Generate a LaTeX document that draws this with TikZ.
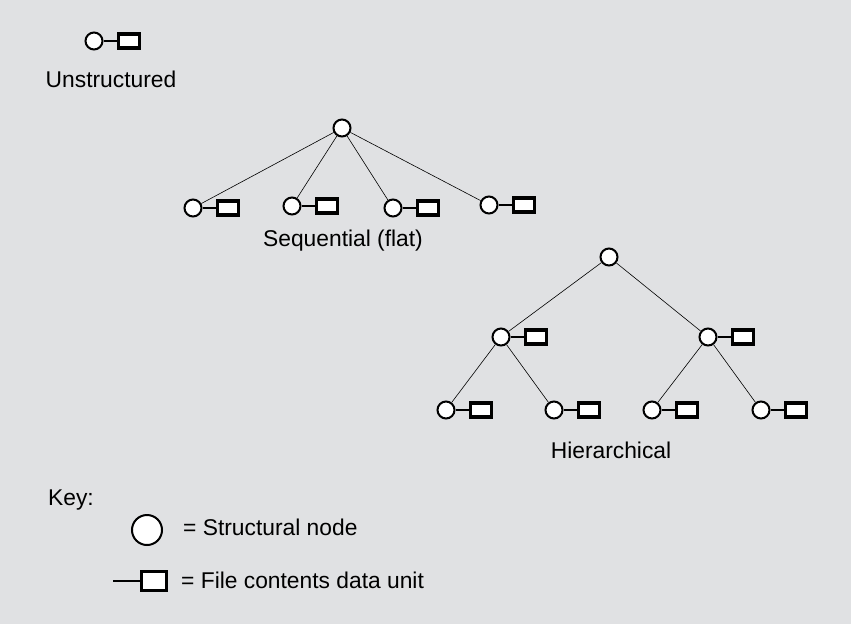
\documentclass[tikz,border=0pt]{standalone}
\usepackage{fontspec}
\setmainfont{Liberation Sans}
\usepackage{tikz}
\usetikzlibrary{positioning}
\definecolor{bggray}{RGB}{224,225,227}

\begin{document}
\begin{tikzpicture}
[x=1pt, y=-1pt, font=\fontsize{22.8}{27}\selectfont,
% STYLES
% The snode style is used to draw the structural nodes
snode/.style={circle, draw, fill=white, line width=2pt, inner sep=0pt, minimum size=17pt},
% The dunit style is used to draw the data units
dunit/.style={rectangle, draw, fill=white, line width=3.2pt, inner sep=0pt, minimum width=21pt, minimum height=14pt},
% The treename style is used for the captions
treename/.style={inner sep=0pt},
link/.style={line width=0.6pt},
stub/.style={line width=1.2pt}]

\fill[bggray] (0,0) rectangle (851,624);

% Unstructured
\node [snode] (u) at (94,41) {};
\node [dunit, right=13pt of u] (u-d) {};
\node [treename] at (111,79) {Unstructured};

% Sequential (flat)
\node [snode] (sroot) at (342,128) {};
\node [snode] (s1) at (193,208) {};
\node [snode] (s2) at (292,206) {};
\node [snode] (s3) at (393,208) {};
\node [snode] (s4) at (489,205) {};
\node [dunit, right=13pt of s1] (s1-d) {};
\node [dunit, right=13pt of s2] (s2-d) {};
\node [dunit, right=13pt of s3] (s3-d) {};
\node [dunit, right=13pt of s4] (s4-d) {};
\node [treename] at (343,241) {Sequential (flat)};

% Hierarchical
\node [snode] (hroot) at (609,257) {};
\node [snode] (h1) at (501,337) {};
\node [snode] (h2) at (708,337) {};
\node [snode] (h11) at (446,410) {};
\node [snode] (h12) at (554,410) {};
\node [snode] (h21) at (652,410) {};
\node [snode] (h22) at (761,410) {};
\node [dunit, right=13pt of h1] (h1-d) {};
\node [dunit, right=13pt of h2] (h2-d) {};
\node [dunit, right=13pt of h11] (h11-d) {};
\node [dunit, right=13pt of h12] (h12-d) {};
\node [dunit, right=13pt of h21] (h21-d) {};
\node [dunit, right=13pt of h22] (h22-d) {};
\node [treename] at (611,450) {Hierarchical};

% Key
\node [treename, anchor=west] (key) at (48,500) {Key:};
\node [snode, minimum size=30pt] (key-n) at (147,530) {};
\node [treename, anchor=west] (key-nt) at (183,527) {= Structural node};
\node [dunit, minimum width=25pt, minimum height=19pt] (key-d) at (154,581) {};
\coordinate (key-s) at (113,581);
\node [treename, anchor=west] (key-dt) at (181,580) {= File contents data unit};

% Draw the links
\path[link]
(sroot) edge (s1)
(sroot) edge (s2)
(sroot) edge (s3)
(sroot) edge (s4)
(hroot) edge (h1)
(hroot) edge (h2)
(h1) edge (h11)
(h1) edge (h12)
(h2) edge (h21)
(h2) edge (h22);

\path[stub]
(u) edge (u-d)
(s1) edge (s1-d)
(s2) edge (s2-d)
(s3) edge (s3-d)
(s4) edge (s4-d)
(h1) edge (h1-d)
(h2) edge (h2-d)
(h11) edge (h11-d)
(h12) edge (h12-d)
(h21) edge (h21-d)
(h22) edge (h22-d)
(key-s) edge (key-d);

\end{tikzpicture}
\end{document}
